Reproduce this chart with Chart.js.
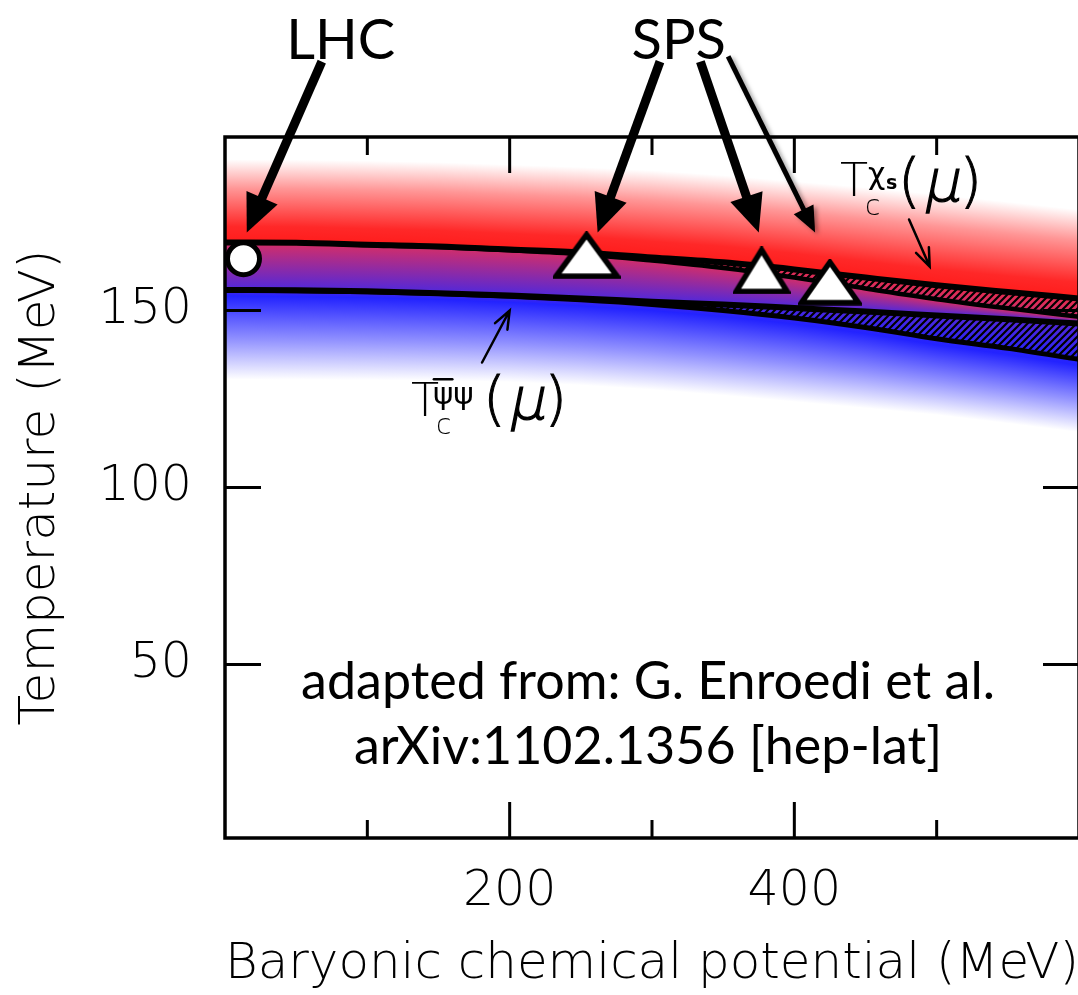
<!DOCTYPE html>
<html>
<head>
<meta charset="utf-8">
<script src="https://cdn.jsdelivr.net/npm/chart.js@4.4.1/dist/chart.umd.min.js"></script>
<style>
  html, body { margin: 0; padding: 0; overflow: hidden; background: #fff; }
</style>
</head>
<body>
<canvas id="myChart" width="1100" height="995"></canvas>
<script>
// band edges (MeV)
var muGrid   = [0, 50, 100, 150, 200, 250, 300, 350, 400, 450, 500, 550, 600];
var chiUpper = [169.2, 169.1, 168.6, 168.1, 167.2, 166.4, 165.0, 163.6, 161.6, 159.3, 157.1, 155.2, 153.4];
var chiLower = [169.2, 169.1, 168.5, 167.9, 167.0, 165.9, 164.1, 162.0, 159.3, 156.2, 153.2, 150.6, 148.2];
var psiUpper = [155.8, 155.7, 155.4, 154.9, 154.2, 153.4, 152.5, 151.7, 150.7, 149.7, 148.6, 147.5, 146.3];
var psiLower = [155.8, 155.6, 155.3, 154.8, 154.0, 153.0, 151.7, 150.0, 147.9, 145.2, 142.0, 139.3, 136.2];
var redGlowTop     = [192.7, 192.6, 192.3, 191.9, 191.2, 190.5, 189.6, 188.2, 186.5, 184.8, 182.8, 180.7, 178.5];
var blueGlowBottom = [130.5, 130.4, 130.3, 130.1, 129.8, 128.9, 127.6, 126.0, 124.2, 122.4, 120.5, 118.1, 115.6];

// freeze-out points
var lhcMu = [13];
var lhcT  = [164.6];
var spsMu = [254, 377, 425];
var spsT  = [165.6, 161.3, 158.0];

// axis ticks
var xMajorTicks = [200, 400];
var xMinorTicks = [100, 300, 500];
var yMajorTicks = [50, 100, 150];

var thinFont = '"DejaVu Sans", sans-serif';
var gillFont = 'Lato, "Open Sans", sans-serif';

function pts(xs, ys) {
  return xs.map(function (x, i) { return {x: x, y: ys[i]}; });
}
function interp(xs, ys, x) {
  if (x <= xs[0]) return ys[0];
  for (var i = 1; i < xs.length; i++) {
    if (x <= xs[i]) {
      var t = (x - xs[i - 1]) / (xs[i] - xs[i - 1]);
      return ys[i - 1] + t * (ys[i] - ys[i - 1]);
    }
  }
  return ys[ys.length - 1];
}

// hatching
var cv = document.getElementById("myChart");
var ctx0 = cv.getContext("2d");
function hatch() {
  var c = document.createElement("canvas");
  c.width = 7; c.height = 7;
  var g = c.getContext("2d");
  g.strokeStyle = "#000";
  g.lineWidth = 2.2;
  g.beginPath();
  g.moveTo(-1, 8); g.lineTo(8, -1);
  g.moveTo(-2, 2); g.lineTo(2, -2);
  g.moveTo(5, 9); g.lineTo(9, 5);
  g.stroke();
  return ctx0.createPattern(c, "repeat");
}
var hatchPattern = hatch();

// triangle markers
function triangle(w, h) {
  var c = document.createElement("canvas");
  c.width = w; c.height = h;
  var g = c.getContext("2d");
  g.beginPath();
  g.moveTo(w / 2, 3.5);
  g.lineTo(w - 3.5, h - 3);
  g.lineTo(3.5, h - 3);
  g.closePath();
  g.fillStyle = "#fff";
  g.fill();
  g.lineWidth = 5.5;
  g.lineJoin = "miter";
  g.strokeStyle = "#000";
  g.stroke();
  return c;
}
var triStyles = [triangle(68, 48), triangle(58, 48), triangle(64, 47)];

// glow behind the bands
var glowPlugin = {
  id: "glow",
  beforeDatasetsDraw: function (chart) {
    var ctx = chart.ctx, a = chart.chartArea;
    var xs = chart.scales.x, ys = chart.scales.y;
    ctx.save();
    ctx.beginPath();
    ctx.rect(a.left, a.top, a.right - a.left, a.bottom - a.top);
    ctx.clip();
    for (var px = Math.floor(a.left); px < a.right; px++) {
      var mu = xs.getValueForPixel(px + 0.5);
      var yTop = ys.getPixelForValue(interp(muGrid, redGlowTop, mu));
      var yRed = ys.getPixelForValue(interp(muGrid, chiUpper, mu));
      var yRed2 = ys.getPixelForValue(interp(muGrid, chiLower, mu));
      var yBlue = ys.getPixelForValue(interp(muGrid, psiUpper, mu));
      var yBlue2 = ys.getPixelForValue(interp(muGrid, psiLower, mu));
      var yBot = ys.getPixelForValue(interp(muGrid, blueGlowBottom, mu));
      var span = yBot - yTop;
      var f = function (y) { return Math.min(1, Math.max(0, (y - yTop) / span)); };
      var g = ctx.createLinearGradient(0, yTop, 0, yBot);
      g.addColorStop(0, "rgb(255,255,255)");
      g.addColorStop(f(yTop + (yRed - yTop) * 0.35), "rgb(255,150,150)");
      g.addColorStop(f(yRed - 16), "rgb(255,40,40)");
      g.addColorStop(f(yRed - 3), "rgb(255,30,30)");
      g.addColorStop(f(yRed + 2), "rgb(230,45,80)");
      g.addColorStop(f(Math.max(yRed2 + 2, yRed + 3)), "rgb(205,45,110)");
      g.addColorStop(f(yBlue - 2), "rgb(85,40,215)");
      g.addColorStop(f(yBlue2 + 6), "rgb(35,35,255)");
      g.addColorStop(f(yBlue2 + (yBot - yBlue2) * 0.55), "rgb(145,145,255)");
      g.addColorStop(1, "rgb(255,255,255)");
      ctx.fillStyle = g;
      ctx.fillRect(px, yTop, 1, span);
    }
    ctx.restore();
  }
};

// frame, inward ticks and annotations
function arrow(ctx, x1, y1, x2, y2, lw, hl, hw) {
  var ang = Math.atan2(y2 - y1, x2 - x1);
  var bx = x2 - Math.cos(ang) * hl, by = y2 - Math.sin(ang) * hl;
  ctx.lineWidth = lw;
  ctx.lineCap = "butt";
  ctx.beginPath(); ctx.moveTo(x1, y1); ctx.lineTo(bx + Math.cos(ang) * 2, by + Math.sin(ang) * 2); ctx.stroke();
  ctx.beginPath();
  ctx.moveTo(x2, y2);
  ctx.lineTo(bx + Math.sin(ang) * hw, by - Math.cos(ang) * hw);
  ctx.lineTo(bx - Math.sin(ang) * hw, by + Math.cos(ang) * hw);
  ctx.closePath();
  ctx.fill();
}
function openArrow(ctx, x1, y1, x2, y2, lw, hl, hw) {
  var ang = Math.atan2(y2 - y1, x2 - x1);
  var bx = x2 - Math.cos(ang) * hl, by = y2 - Math.sin(ang) * hl;
  ctx.lineWidth = lw;
  ctx.lineCap = "round";
  ctx.beginPath();
  ctx.moveTo(x1, y1); ctx.lineTo(x2, y2);
  ctx.moveTo(bx + Math.sin(ang) * hw, by - Math.cos(ang) * hw);
  ctx.lineTo(x2, y2);
  ctx.lineTo(bx - Math.sin(ang) * hw, by + Math.cos(ang) * hw);
  ctx.stroke();
}
function drawMu(ctx, x, y) {
  ctx.font = "200 58px " + thinFont;
  ctx.lineWidth = 1;
  ctx.fillText("(", x, y);
  ctx.strokeText("(", x, y);
  var w = ctx.measureText("(").width;
  ctx.save();
  ctx.translate(x + w + 2, y);
  ctx.transform(1, 0, -0.2, 1, 0, 0);
  ctx.lineWidth = 1.4;
  ctx.fillText("\u03bc", 0, 0);
  ctx.strokeText("\u03bc", 0, 0);
  var w2 = ctx.measureText("\u03bc").width;
  ctx.restore();
  ctx.lineWidth = 1;
  ctx.fillText(")", x + w + w2 + 2, y);
  ctx.strokeText(")", x + w + w2 + 2, y);
}

var decoPlugin = {
  id: "deco",
  afterDatasetsDraw: function (chart) {
    var ctx = chart.ctx, a = chart.chartArea;
    var xs = chart.scales.x, ys = chart.scales.y;
    var X = function (v) { return xs.getPixelForValue(v); };
    var Y = function (v) { return ys.getPixelForValue(v); };
    ctx.save();
    ctx.strokeStyle = "#000";
    ctx.fillStyle = "#000";
    ctx.lineWidth = 3.5;
    ctx.strokeRect(a.left, a.top, a.right - a.left, a.bottom - a.top);
    ctx.lineWidth = 3;
    ctx.beginPath();
    xMajorTicks.forEach(function (v) {
      ctx.moveTo(X(v), a.bottom); ctx.lineTo(X(v), a.bottom - 36);
      ctx.moveTo(X(v), a.top); ctx.lineTo(X(v), a.top + 36);
    });
    xMinorTicks.forEach(function (v) {
      ctx.moveTo(X(v), a.bottom); ctx.lineTo(X(v), a.bottom - 18);
      ctx.moveTo(X(v), a.top); ctx.lineTo(X(v), a.top + 18);
    });
    yMajorTicks.forEach(function (v) {
      ctx.moveTo(a.left, Y(v)); ctx.lineTo(a.left + 36, Y(v));
      ctx.moveTo(a.right, Y(v)); ctx.lineTo(a.right - 36, Y(v));
    });
    ctx.stroke();

    // big arrows to the points
    arrow(ctx, X(68), Y(220.3), X(15.3), Y(172.0), 9, 38, 17);
    arrow(ctx, X(305.6), Y(220.3), X(261.8), Y(172.0), 9, 38, 17);
    arrow(ctx, X(334.0), Y(220.3), X(375.0), Y(172.0), 9, 38, 17);
    ctx.save();
    ctx.shadowColor = "rgba(0,0,0,0.35)";
    ctx.shadowBlur = 4;
    ctx.shadowOffsetX = 3;
    ctx.shadowOffsetY = 2;
    arrow(ctx, X(353.5), Y(221.8), X(414.6), Y(172.0), 5, 26, 11);
    ctx.restore();

    // small arrows from the curve labels
    openArrow(ctx, X(480.6), Y(175.7), X(495.1), Y(162.4), 2.5, 18, 7);
    openArrow(ctx, X(180.6), Y(135.3), X(200.0), Y(150.0), 2.5, 18, 7);

    // LHC / SPS labels
    ctx.textAlign = "center";
    ctx.textBaseline = "alphabetic";
    ctx.font = "400 56px " + gillFont;
    ctx.fillText("LHC", X(81.3), Y(221.0));
    ctx.fillText("SPS", X(318.8), Y(221.0));

    // source note
    ctx.font = "400 52px " + gillFont;
    ctx.fillText("adapted from: G. Enroedi et al.", X(297.2), Y(40.2));
    ctx.fillText("arXiv:1102.1356 [hep-lat]", X(297.2), Y(22.0));

    // T_c labels
    ctx.textAlign = "left";
    var tx = X(432), ty = Y(182.2);
    ctx.font = "200 46px " + thinFont;
    ctx.fillText("T", tx, ty);
    ctx.font = "200 28px " + thinFont;
    ctx.fillText("c", tx + 25, ty + 19);
    ctx.font = "400 30px " + thinFont;
    ctx.fillText("\u03c7", tx + 28, ty - 12);
    ctx.font = "700 19px " + thinFont;
    ctx.fillText("s", tx + 46, ty - 7);
    drawMu(ctx, tx + 58, ty + 5);

    tx = X(130.6); ty = Y(120.1);
    ctx.font = "200 46px " + thinFont;
    ctx.fillText("T", tx, ty);
    ctx.font = "200 28px " + thinFont;
    ctx.fillText("c", tx + 25, ty + 18);
    ctx.font = "400 31px " + thinFont;
    var w1 = ctx.measureText("\u03c8").width;
    ctx.fillText("\u03c8", tx + 22, ty - 12);
    ctx.fillText("\u03c8", tx + 22 + w1, ty - 12);
    ctx.lineWidth = 2.5;
    ctx.beginPath();
    ctx.moveTo(tx + 23, ty - 37); ctx.lineTo(tx + 21 + w1, ty - 37);
    ctx.stroke();
    drawMu(ctx, tx + 72, ty + 3);
    ctx.restore();
  }
};

var lineStyle = {
  showLine: true, borderColor: "#000", pointRadius: 0, pointHoverRadius: 0,
  cubicInterpolationMode: "monotone", order: 2
};

new Chart(cv, {
  type: "line",
  data: {
    datasets: [
      {data: pts(lhcMu, lhcT), showLine: false, pointStyle: "circle", pointRadius: 16,
       pointBackgroundColor: "#fff", pointBorderColor: "#000", pointBorderWidth: 5, order: 0, clip: false},
      {data: pts(spsMu, spsT), showLine: false, pointStyle: triStyles, pointRadius: 20, order: 0, clip: false},
      Object.assign({data: pts(muGrid, chiUpper), borderWidth: 6, fill: "+1", backgroundColor: hatchPattern}, lineStyle),
      Object.assign({data: pts(muGrid, chiLower), borderWidth: 4.5, fill: false}, lineStyle),
      Object.assign({data: pts(muGrid, psiUpper), borderWidth: 6, fill: "+1", backgroundColor: hatchPattern}, lineStyle),
      Object.assign({data: pts(muGrid, psiLower), borderWidth: 5, fill: false}, lineStyle)
    ]
  },
  options: {
    responsive: false,
    animation: false,
    events: [],
    layout: {padding: {top: 137, right: 11, left: 0, bottom: 0}},
    plugins: {legend: {display: false}, tooltip: {enabled: false}},
    scales: {
      x: {
        type: "linear", min: 0, max: 600,
        grid: {display: false, drawTicks: false},
        border: {display: false},
        afterBuildTicks: function (s) { s.ticks = xMajorTicks.map(function (v) { return {value: v}; }); },
        afterFit: function (s) { s.height = 157; },
        ticks: {color: "#000", padding: 25, maxRotation: 0, font: {family: thinFont, size: 49, weight: 200}},
        title: {display: true, text: "Baryonic chemical potential (MeV)", color: "#000", padding: 0,
                font: {family: thinFont, size: 50, weight: 200}}
      },
      y: {
        type: "linear", min: 1, max: 199,
        grid: {display: false, drawTicks: false},
        border: {display: false},
        afterBuildTicks: function (s) { s.ticks = yMajorTicks.map(function (v) { return {value: v}; }); },
        afterFit: function (s) { s.width = 225; },
        ticks: {color: "#000", padding: 33, font: {family: thinFont, size: 49, weight: 200}},
        title: {display: true, text: "Temperature (MeV)", color: "#000", padding: {top: 11, bottom: 0},
                font: {family: thinFont, size: 50, weight: 200}}
      }
    }
  },
  plugins: [glowPlugin, decoPlugin]
});
</script>
</body>
</html>
